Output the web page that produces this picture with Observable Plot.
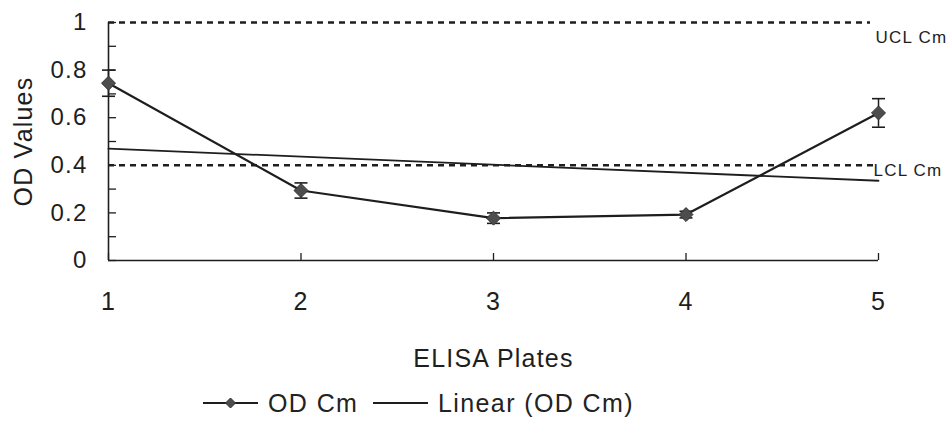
<!DOCTYPE html>
<html>
<head>
<meta charset="utf-8">
<script src="https://cdn.jsdelivr.net/npm/d3@7"></script>
<script src="https://cdn.jsdelivr.net/npm/@observablehq/plot@0.6"></script>
<style>
  html, body { margin: 0; padding: 0; background: #fff; }
  body { font-family: "Liberation Sans", Arial, sans-serif; color: #222; width: 948px; height: 423px; overflow: hidden; }
  #chart svg { display: block; }
  #legend { position: relative; height: 43px; }
  #legend .item { position: absolute; top: 0; height: 46px; display: flex; align-items: center; font-size: 25px; letter-spacing: 1.4px; color: #222; }
  #legend svg { display: block; margin-right: 10px; }
</style>
</head>
<body>
<div id="chart"></div>
<div id="legend"></div>
<script>
// ---- data ----
const plates = [1, 2, 3, 4, 5];
const odValues = [0.745, 0.294, 0.178, 0.193, 0.62];
const odErrors = [0.055, 0.032, 0.022, 0.014, 0.06];
const trendPlates = [1, 5];
const trendValues = [0.47, 0.335];
const uclValue = 1.0;
const lclValue = 0.4;
const limitLabels = ["UCL Cm", "LCL Cm"];
const yTickValues = [0, 0.2, 0.4, 0.6, 0.8, 1];
const yMinorTicks = [0, 0.1, 0.2, 0.3, 0.4, 0.5, 0.6, 0.7, 0.8, 0.9, 1];
const xTickValues = [1, 2, 3, 4, 5];
const seriesNames = ["OD Cm", "Linear (OD Cm)"];
const xTitle = "ELISA Plates";
const yTitle = "OD Values";

// ---- tables ----
const od = plates.map((p, i) => ({plate: p, value: odValues[i], err: odErrors[i]}));
const trend = trendPlates.map((p, i) => ({plate: p, value: trendValues[i]}));

const ink = "#1e1e1e";
const capSymbol = { draw(ctx, size) { ctx.moveTo(-6.5, 0); ctx.lineTo(6.5, 0); } };

const chart = Plot.plot({
  width: 948,
  height: 380,
  marginTop: 22,
  marginBottom: 120,
  marginLeft: 108,
  marginRight: 70,
  style: { fontFamily: "'Liberation Sans', Arial, sans-serif", color: ink, background: "#fff" },
  x: { domain: [1, 5], label: null },
  y: { domain: [0, 1], label: null },
  marks: [
    Plot.axisY({ ticks: yMinorTicks, tickSize: -8, tickFormat: () => "", stroke: ink, strokeWidth: 1.3 }),
    Plot.axisY({ ticks: yTickValues, tickSize: 0, tickPadding: 21, tickFormat: d => String(d), fontSize: 24, fill: ink }),
    Plot.axisX({ ticks: xTickValues, tickSize: -7, tickFormat: () => "", stroke: ink, strokeWidth: 1.3 }),
    Plot.axisX({ ticks: xTickValues, tickSize: 0, tickPadding: 32, tickFormat: d => String(d), fontSize: 25, fill: ink }),
    Plot.ruleY([0], { stroke: ink, strokeWidth: 1.6 }),
    Plot.ruleX([1], { stroke: ink, strokeWidth: 1.6 }),
    Plot.ruleY([uclValue], { stroke: ink, strokeWidth: 2.6, strokeDasharray: "6,5", insetRight: 8 }),
    Plot.ruleY([lclValue], { stroke: ink, strokeWidth: 2.6, strokeDasharray: "6,5" }),
    Plot.text([{y: uclValue, t: limitLabels[0]}], { x: 5, y: "y", text: "t", textAnchor: "start", dx: -3, dy: 15, fontSize: 17, fill: ink }),
    Plot.text([{y: lclValue, t: limitLabels[1]}], { x: 5, y: "y", text: "t", textAnchor: "start", dx: -5, dy: 5, fontSize: 17, fill: ink }),
    Plot.line(trend, { x: "plate", y: "value", stroke: ink, strokeWidth: 1.8 }),
    Plot.ruleX(od, { x: "plate", y1: d => d.value - d.err, y2: d => d.value + d.err, stroke: ink, strokeWidth: 1.5 }),
    Plot.dot(od, { x: "plate", y: d => d.value + d.err, symbol: capSymbol, stroke: ink, strokeWidth: 1.6, fill: "none", r: 5 }),
    Plot.dot(od, { x: "plate", y: d => d.value - d.err, symbol: capSymbol, stroke: ink, strokeWidth: 1.6, fill: "none", r: 5 }),
    Plot.line(od, { x: "plate", y: "value", stroke: ink, strokeWidth: 2.2 }),
    Plot.dot(od, { x: "plate", y: "value", symbol: "diamond2", r: 6.3, fill: "#4d4d4d", stroke: "#333", strokeWidth: 1 }),
    Plot.text([yTitle], { frameAnchor: "left", dx: -85, rotate: -90, text: d => d, textAnchor: "middle", fontSize: 25, fill: ink, lineAnchor: "middle" }),
    Plot.text([xTitle], { frameAnchor: "bottom", dy: 98, text: d => d, textAnchor: "middle", fontSize: 25, fill: ink, lineAnchor: "middle" })
  ]
});
document.getElementById("chart").appendChild(chart);
chart.querySelectorAll("text").forEach(t => t.setAttribute("letter-spacing", "1.2"));

// ---- legend ----
const legend = document.getElementById("legend");
function item(left, name, withDot) {
  const div = document.createElement("div");
  div.className = "item";
  div.style.left = left + "px";
  const ns = "http://www.w3.org/2000/svg";
  const s = document.createElementNS(ns, "svg");
  s.setAttribute("width", 55); s.setAttribute("height", 16);
  const l = document.createElementNS(ns, "line");
  l.setAttribute("x1", 0); l.setAttribute("x2", 55); l.setAttribute("y1", 8); l.setAttribute("y2", 8);
  l.setAttribute("stroke", ink); l.setAttribute("stroke-width", withDot ? 2.2 : 1.8);
  s.appendChild(l);
  if (withDot) {
    const p = document.createElementNS(ns, "path");
    p.setAttribute("d", "M27.5,3 L32.5,8 L27.5,13 L22.5,8 Z");
    p.setAttribute("fill", "#4d4d4d"); p.setAttribute("stroke", "#333");
    s.appendChild(p);
  }
  div.appendChild(s);
  const span = document.createElement("span");
  span.textContent = name;
  div.appendChild(span);
  legend.appendChild(div);
}
item(203, seriesNames[0], true);
item(373, seriesNames[1], false);
</script>
</body>
</html>
